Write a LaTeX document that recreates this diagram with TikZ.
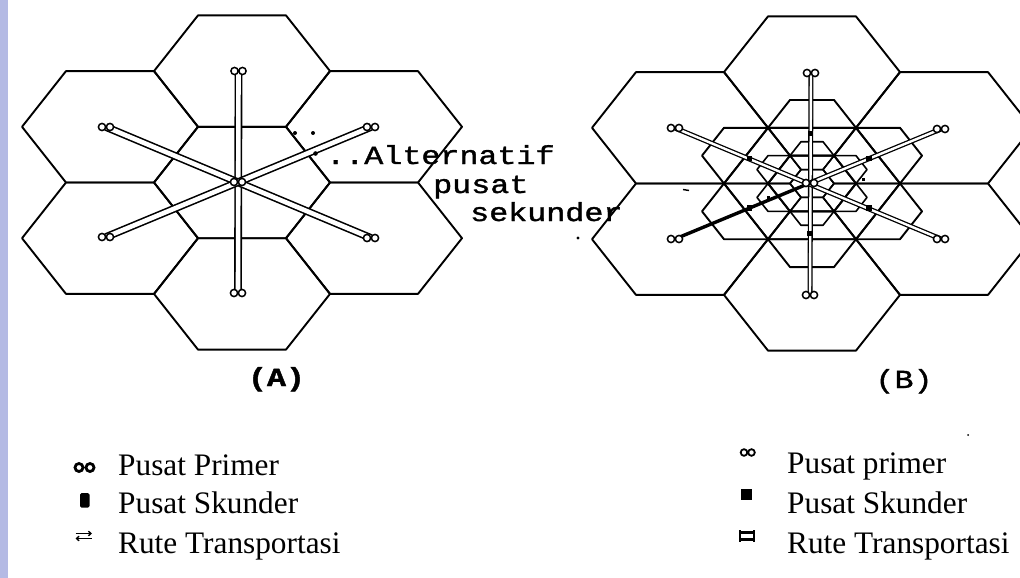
\documentclass[tikz,border=0pt]{standalone}
\usepackage{fontspec}
\usepackage{graphicx}
\setmainfont{Liberation Serif}
\newfontfamily\typewriter[FakeBold=1.3]{Liberation Mono}
\usetikzlibrary{arrows.meta,calc}

\definecolor{sidebar}{RGB}{180,186,228}

% one flat-topped hexagonal cell: centre x, centre y, half width R, half height h
\newcommand{\hexcell}[5][cell]{%
  \draw[#1] ({#2},{#3}) ++({-#4},0) -- ++({#4/2},{-#5}) -- ++({#4},0)
    -- ++({#4/2},{#5}) -- ++({-#4/2},{#5}) -- ++({-#4},0) -- cycle;}

% a centre cell with its six neighbours
\newcommand{\rosette}[5][cell]{%
  \foreach \dx/\dy in {0/0,0/-2,0/2,-1.5/-1,-1.5/1,1.5/-1,1.5/1}{%
    \hexcell[#1]{#2+(\dx)*#4}{#3+(\dy)*#5}{#4}{#5}}}

\tikzset{
  cell/.style={draw=black, line width=1.9pt, line join=round},
  smallcell/.style={draw=black, line width=1.6pt, line join=round},
  roadA/.style={draw=black, double=white, double distance=4.6pt, line width=1.6pt},
  roadB/.style={draw=black, double=white, double distance=2.4pt, line width=1.3pt},
  roadBsolid/.style={draw=black, line width=3.4pt},
  skunder/.style={rectangle, fill=black, minimum size=5.5pt, inner sep=0pt},
  twtext/.style={font=\typewriter\fontsize{26}{26}\selectfont, inner sep=0pt},
  legtext/.style={font=\fontsize{31.3}{32}\selectfont, inner sep=0pt, anchor=base west},
  pics/primer/.style={code={%
    \filldraw[fill=white, line width=1.5pt] (-4,0) circle[radius=3.6pt] (4,0) circle[radius=3.6pt];}}
}

\begin{document}
\begin{tikzpicture}[x=1pt,y=-1pt]
\useasboundingbox (0,0) rectangle (1020,578);
\fill[sidebar] (0,0) rectangle (7.5,578);

% ---------- panel (A): seven market areas ----------
\rosette{242}{182.5}{88}{55.7}

\coordinate (A0) at (238,182);
\coordinate (A1) at (238.5,71);
\coordinate (A2) at (371,127);
\coordinate (A3) at (371,238);
\coordinate (A4) at (238,293);
\coordinate (A5) at (106,237);
\coordinate (A6) at (106,127);

\draw[roadA] (A1) -- (A4);
\draw[roadA] (A6) -- (A3);
\draw[roadA] (A5) -- (A2);
\foreach \p in {A0,A1,A2,A3,A4,A5,A6} \pic at (\p) {primer};

% leader dots and label for the alternative secondary centres
\fill (295,133) circle[radius=2pt];
\fill (313,133) circle[radius=2pt];
\fill (315.5,153.5) circle[radius=2.3pt];
\node[twtext, anchor=base west] (alt) at (326,164) {\scalebox{1.22}[1]{..Alternatif}};
\node[twtext, anchor=base west] (pusat) at (433,193) {\scalebox{1.22}[1]{pusat}};
\node[twtext, anchor=base west] (sek) at (470,221) {\scalebox{1.22}[1]{sekunder}};
\fill (578,238) circle[radius=1.6pt];

\node[twtext, anchor=base, font=\typewriter\bfseries\fontsize{26}{26}\selectfont] (capA) at (276.5,386) {\scalebox{1.22}[1]{(A)}};

% ---------- panel (B): nested market areas ----------
\rosette{812}{183.5}{88}{55.7}
\rosette{812}{183.5}{44}{27.85}
\rosette[smallcell]{812}{183.5}{22}{13.925}

\coordinate (B0) at (810,183);
\coordinate (B1) at (811,73);
\coordinate (B2) at (941,129);
\coordinate (B3) at (941,239);
\coordinate (B4) at (810,295);
\coordinate (B5) at (675,239);
\coordinate (B6) at (675,128);

\draw[roadB] (B1) -- (B4);
\draw[roadB] (B6) -- (B3);
\draw[roadB] (B0) -- (B2);
\draw[roadBsolid] (B0) -- (B5);

\foreach \i in {1,...,6} \node[skunder] (S\i) at ($(B0)!0.45!(B\i)$) {};
\fill (862,181) rectangle ++(3,-3);
\fill (767,199) rectangle ++(3,-3);
\draw[line width=1.4pt] (683,189.5) -- (689,190.5);

\foreach \p in {B0,B1,B2,B3,B4,B5,B6} \pic at (\p) {primer};

\node[twtext, anchor=base] (capB) at (904,388) {\scalebox{1.22}[1]{(B)}};

% ---------- legend, panel (A) ----------
\draw[line width=2.8pt] (79,467.5) circle[radius=4pt] (90,467.5) circle[radius=4pt];
\fill[rounded corners=1.5pt] (80,493) rectangle (89.5,507.5);
\draw[line width=1.4pt, -{Straight Barb[length=2.5pt,width=4.5pt]}] (75.5,533.5) -- (92,533.5);
\draw[line width=1.4pt, {Straight Barb[length=2.5pt,width=4.5pt]}-] (75.5,538.5) -- (92,538.5);
\node[legtext] (lpA) at (118,475) {Pusat Primer};
\node[legtext] (lsA) at (118,513) {Pusat Skunder};
\node[legtext] (lrA) at (118,553) {Rute Transportasi};

% ---------- legend, panel (B) ----------
\draw[line width=1.8pt] (744,452.5) circle[radius=3.3pt] (751.5,452.5) circle[radius=3.3pt];
\fill (741,489) rectangle (752,500);
\draw[line width=2.6pt] (739,532.5) -- (755,532.5) (739,539.5) -- (755,539.5);
\draw[line width=1.2pt] (740,530) -- (740,542) (754,530) -- (754,542);
\node[legtext] (lpB) at (787,473) {Pusat primer};
\node[legtext] (lsB) at (787,513) {Pusat Skunder};
\node[legtext] (lrB) at (787,553) {Rute Transportasi};
\fill (968,435) circle[radius=1pt];
\end{tikzpicture}
\end{document}
